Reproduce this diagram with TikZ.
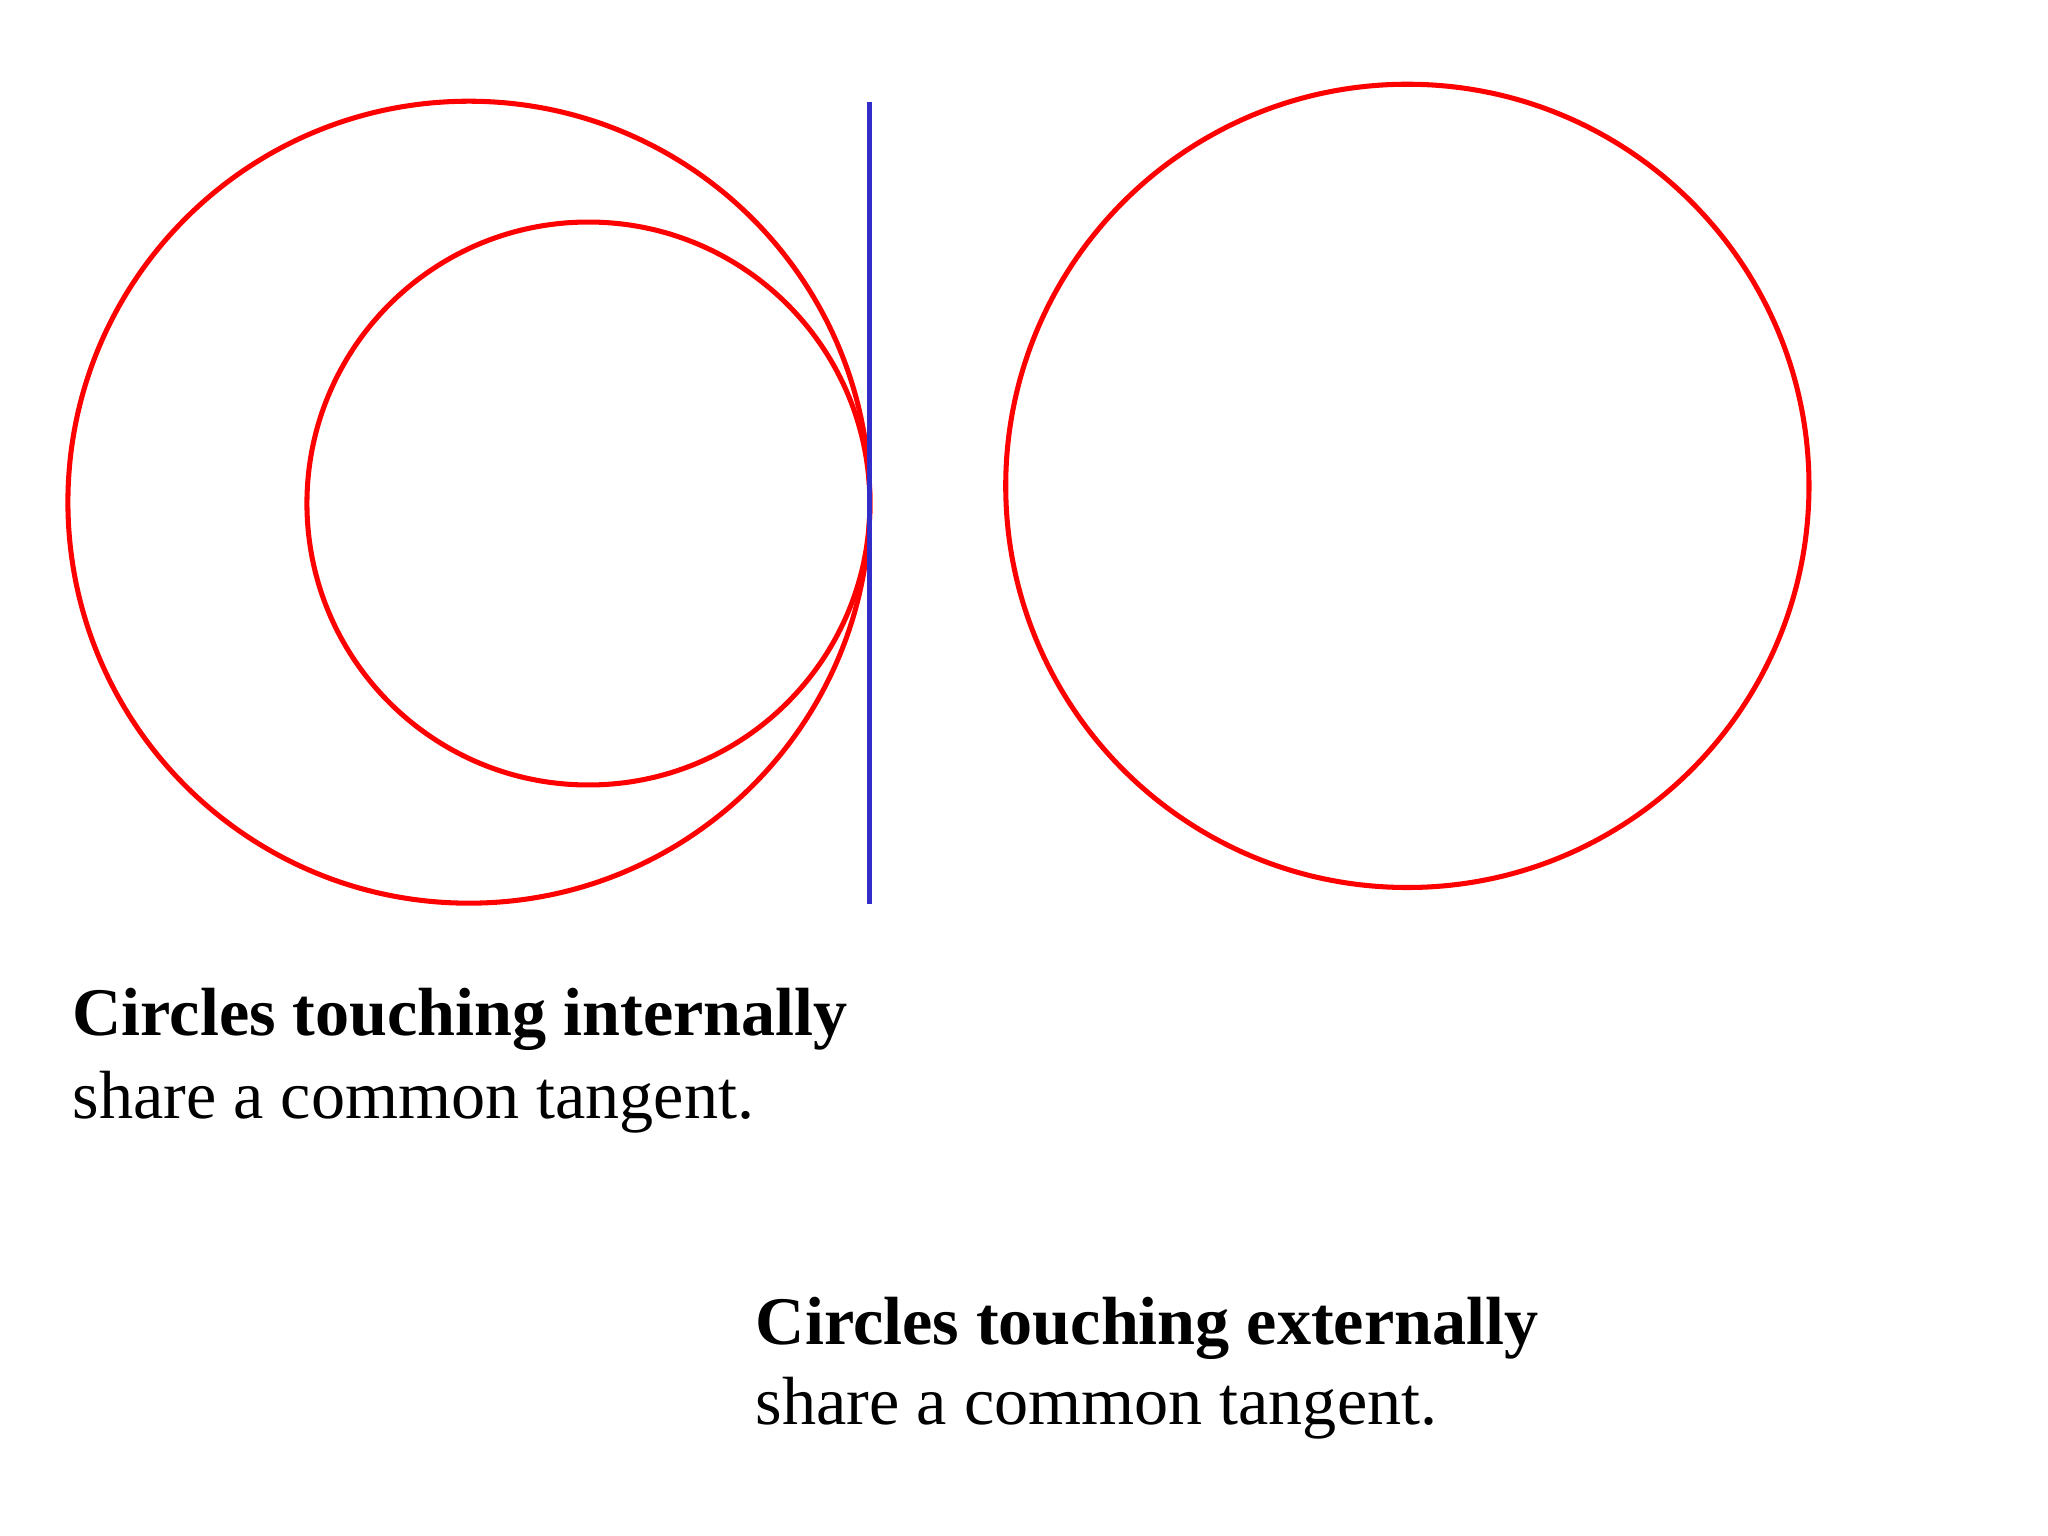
\documentclass[tikz,border=0pt]{standalone}
\usepackage{fontspec}
\setmainfont{Liberation Serif}
\usepackage{tikz}

\tikzset{
  circ/.style={draw=red, line width=1.1pt},
  tang/.style={draw={rgb,255:red,50;green,45;blue,200}, line width=1.1pt},
  lbl/.style={anchor=base west, inner sep=0pt, font=\fontsize{14.85}{18}\selectfont}
}

\begin{document}
\begin{tikzpicture}
      \useasboundingbox[fill=white] (0,0) rectangle (15.68,-11.76);

      \coordinate(O1) at (3.59,-3.845);
      \coordinate(O2) at (4.505,-3.855);
      \coordinate(O3) at (10.775,-3.72);
      \coordinate(T1) at (6.66,-0.78);
      \coordinate(T2) at (6.66,-6.92);

      \draw[circ] (O1) circle [radius=3.07];
      \draw[circ] (O2) circle [radius=2.155];
      \draw[circ] (O3) circle [radius=3.075];

      \draw[tang] (T1) -- (T2);

      \node(IN)[lbl] at (0.55,-7.93) {\bfseries Circles touching internally};
      \node(INS)[lbl] at (0.55,-8.56) {share a common tangent.};

      \node(EX)[lbl] at (5.78,-10.29) {\bfseries Circles touching externally};
      \node(EXS)[lbl] at (5.78,-10.91) {share a common tangent.};
\end{tikzpicture}
\end{document}
